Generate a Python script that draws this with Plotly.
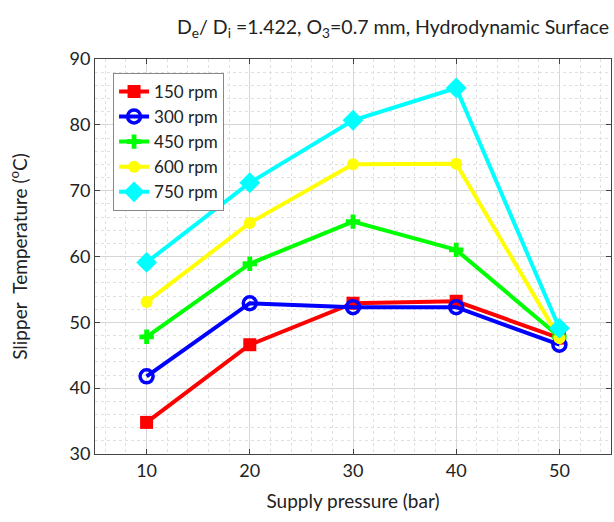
import plotly.graph_objects as go

pressure = [10, 20, 30, 40, 50]
series_names = ["150 rpm", "300 rpm", "450 rpm", "600 rpm", "750 rpm"]
temp_150 = [34.8, 46.6, 52.9, 53.2, 47.6]
temp_300 = [41.8, 52.9, 52.3, 52.3, 46.6]
temp_450 = [47.8, 58.9, 65.3, 61.0, 47.8]
temp_600 = [53.1, 65.1, 74.0, 74.1, 47.6]
temp_750 = [59.1, 71.2, 80.7, 85.6, 49.1]

colors = ["#ff0000", "#0000ff", "#00ff00", "#ffff00", "#00ffff"]
styles = [
    dict(symbol="square", size=13),
    dict(symbol="circle-open", size=13, line=dict(width=3.5)),
    dict(symbol="cross", size=12),
    dict(symbol="circle", size=12),
    dict(symbol="diamond", size=16),
]
data = [temp_150, temp_300, temp_450, temp_600, temp_750]

fig = go.Figure()
for name, y, c, st in zip(series_names, data, colors, styles):
    m = dict(color=c, **st)
    if "line" in m:
        m["line"]["color"] = c
    fig.add_trace(go.Scatter(x=pressure, y=y, name=name, mode="lines+markers",
                             line=dict(color=c, width=4), marker=m))

font = "Lato"
axis_common = dict(
    showline=True, linecolor="#444", linewidth=1, mirror="allticks",
    ticks="inside", ticklen=5, tickcolor="#444",
    showgrid=True, gridcolor="#d6d6d6", gridwidth=1, zeroline=False,
    tickfont=dict(family=font, size=18, color="#222"),
)
fig.update_xaxes(range=[5, 55], tick0=10, dtick=10,
                 minor=dict(dtick=2, showgrid=True, gridcolor="#e0e0e0", griddash="dot"),
                 title=dict(text="Supply pressure (bar)", font=dict(family=font, size=19, color="#222"), standoff=15),
                 **axis_common)
fig.update_yaxes(range=[30, 90], tick0=30, dtick=10,
                 minor=dict(dtick=2, showgrid=True, gridcolor="#e0e0e0", griddash="dot"),
                 title=dict(text="Slipper  Temperature (<sup>o</sup>C)", font=dict(family=font, size=19, color="#222"), standoff=36),
                 **axis_common)

fig.update_layout(
    width=614, height=522,
    margin=dict(l=95, r=3, t=59, b=68),
    paper_bgcolor="white", plot_bgcolor="white",
    title=dict(text="D<sub>e</sub>/ D<sub>i</sub> =1.422, O<sub>3</sub>=0.7 mm, Hydrodynamic Surface",
               x=609/614, xanchor="right", xref="container",
               y=1-27/522, yanchor="middle", yref="container",
               font=dict(family=font, size=19.5, color="#222")),
    legend=dict(x=0.035, y=0.965, xanchor="left", yanchor="top",
                bgcolor="white", bordercolor="#888", borderwidth=1,
                font=dict(family=font, size=17, color="#222"),
                itemwidth=30, tracegroupgap=0),
    showlegend=True,
)

fig.write_html("out.html")
